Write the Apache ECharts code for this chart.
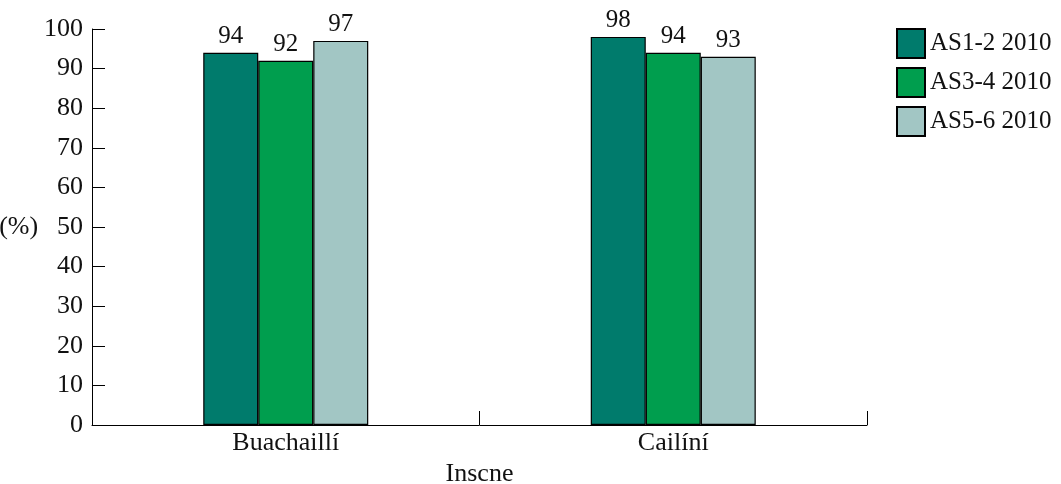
<!DOCTYPE html>
<html>
<head>
<meta charset="utf-8">
<script src="https://cdn.jsdelivr.net/npm/echarts@6/dist/echarts.min.js"></script>
<style>html,body{margin:0;padding:0;background:#fff}#c{width:1061px;height:484px}</style>
</head>
<body>
<div id="c"></div>
<script>
var categories = ['Buachaillí', 'Cailíní'];
var seriesNames = ['AS1-2 2010', 'AS3-4 2010', 'AS5-6 2010'];
var as12 = [94, 98];
var as34 = [92, 94];
var as56 = [97, 93];
var colors = ['#007b6c', '#009e4e', '#a2c6c4'];
var yTicks = [0, 10, 20, 30, 40, 50, 60, 70, 80, 90, 100];

var FONT = 'Liberation Serif';
var FS = 26;
var chart = echarts.init(document.getElementById('c'));
function mk(name, data, color) {
  return {
    name: name, type: 'bar', data: data, barWidth: 55, barGap: '0%',
    itemStyle: { color: color, borderColor: '#000', borderWidth: 1.2 },
    label: { show: true, position: 'top', color: '#111', fontFamily: FONT, fontSize: 25, distance: 4 }
  };
}
chart.setOption({
  animation: false,
  textStyle: { fontFamily: FONT },
  grid: { left: 92, right: 194, top: 29, bottom: 59, containLabel: false, outerBoundsMode: 'none' },
  legend: {
    orient: 'vertical', left: 896, top: 28, padding: 0, itemWidth: 28, itemHeight: 29, itemGap: 8,
    icon: 'rect',
    textStyle: { fontFamily: FONT, fontSize: 25, color: '#111', padding: [0, 0, 0, 0] },
    data: seriesNames
  },
  xAxis: {
    type: 'category', data: categories,
    name: 'Inscne', nameLocation: 'middle', nameGap: 36,
    nameTextStyle: { fontFamily: FONT, fontSize: FS, color: '#111' },
    axisLine: { show: true, lineStyle: { color: '#000', width: 1 } },
    axisTick: { show: true, inside: true, alignWithLabel: false, interval: 0, length: 14, lineStyle: { color: '#000', width: 1 } },
    axisLabel: { fontFamily: FONT, fontSize: FS, color: '#111', margin: 5 }
  },
  yAxis: {
    type: 'value', min: 0, max: 100, interval: 10,
    name: '(%)', nameLocation: 'middle', nameGap: 50, nameRotate: 0,
    nameTextStyle: { fontFamily: FONT, fontSize: FS, color: '#111' },
    axisLine: { show: true, lineStyle: { color: '#000', width: 1 } },
    axisTick: { show: true, inside: true, length: 13, lineStyle: { color: '#000' } },
    splitLine: { show: false },
    axisLabel: { fontFamily: FONT, fontSize: FS, color: '#111', margin: 9,
      formatter: function (v) { return yTicks.indexOf(v) >= 0 ? String(v) : ''; } }
  },
  series: [mk(seriesNames[0], as12, colors[0]), mk(seriesNames[1], as34, colors[1]), mk(seriesNames[2], as56, colors[2])]
});
</script>
</body>
</html>
